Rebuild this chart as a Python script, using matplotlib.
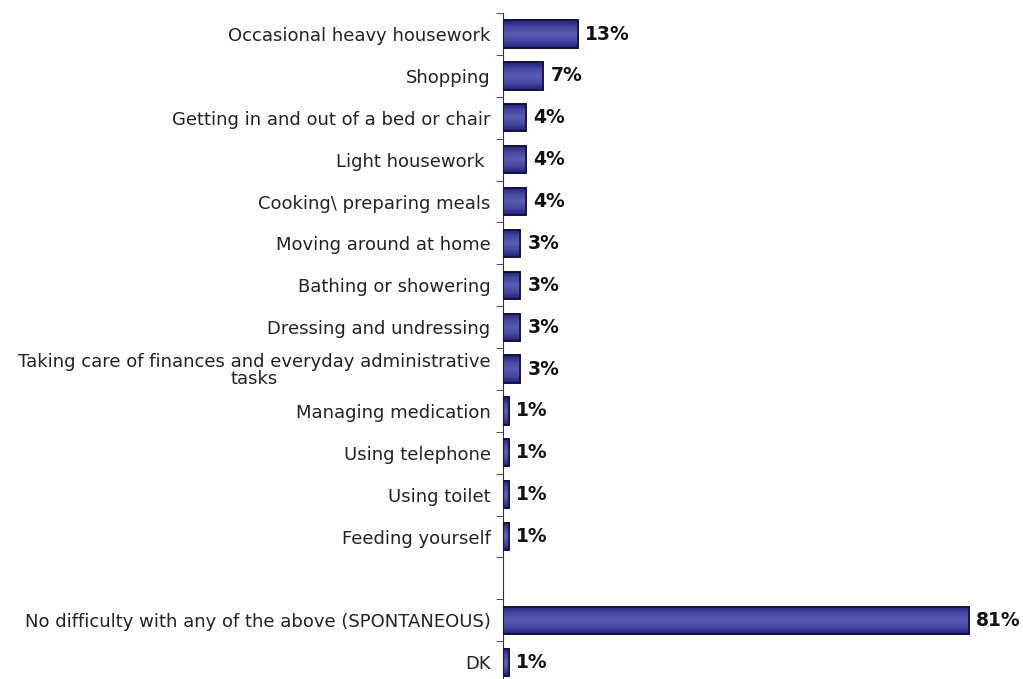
import numpy as np
import matplotlib.pyplot as plt
from matplotlib.colors import LinearSegmentedColormap

labels = ['Occasional heavy housework', 'Shopping',
          'Getting in and out of a bed or chair', 'Light housework ',
          'Cooking\\ preparing meals', 'Moving around at home',
          'Bathing or showering', 'Dressing and undressing',
          'Taking care of finances and everyday administrative\ntasks',
          'Managing medication', 'Using telephone', 'Using toilet',
          'Feeding yourself', '',
          'No difficulty with any of the above (SPONTANEOUS)', 'DK']
values = [13, 7, 4, 4, 4, 3, 3, 3, 3, 1, 1, 1, 1, None, 81, 1]

# vertical shading of the bars: dark edges, lighter middle
shade = LinearSegmentedColormap.from_list(
    'shade', ['#20207a', '#4848a4', '#5c5cb6', '#4848a4', '#20207a'])
grad = np.linspace(0, 1, 64).reshape(-1, 1)

fig = plt.figure(figsize=(10.23, 6.79), dpi=100)
ax = fig.add_axes([0.4917, -0.006, 0.5, 0.9867])

y = np.arange(len(labels))
for i, v in enumerate(values):
    if v is None:
        continue
    bar = ax.barh(y[i], v, height=0.65, color='#4b4ba8', edgecolor='#111133',
                  linewidth=1.2, zorder=2)[0]
    im = ax.imshow(grad, cmap=shade, aspect='auto', zorder=2.5,
                   extent=[0, v, y[i] + 0.325, y[i] - 0.325], interpolation='bicubic')
    im.set_clip_path(bar)
    ax.barh(y[i], v, height=0.65, color='none', edgecolor='#111133',
            linewidth=1.2, zorder=3)
    ax.text(v + 1.3, y[i], '%d%%' % v, va='center', ha='left',
            fontsize=13.5, fontweight='bold', color='#111111')

ax.set_xlim(0, 89)
ax.set_ylim(len(labels) - 0.5, -0.5)
ax.set_yticks(y)
ax.set_yticklabels(labels, fontsize=13, color='#222222', multialignment='center',
                   linespacing=0.95)
ax.tick_params(axis='y', which='major', length=0, pad=9)
ax.set_yticks(np.arange(len(labels) + 1) - 0.5, minor=True)
ax.tick_params(axis='y', which='minor', length=5, direction='out', color='#333333')
ax.set_xticks([])
for s in ['top', 'right', 'bottom']:
    ax.spines[s].set_visible(False)
ax.spines['left'].set_color('#333333')

plt.savefig('out.png', dpi=100)
